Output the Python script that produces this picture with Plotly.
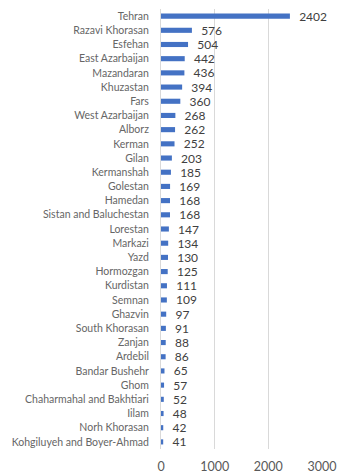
import plotly.graph_objects as go

provinces = [
    "Tehran", "Razavi Khorasan", "Esfehan", "East Azarbaijan", "Mazandaran",
    "Khuzastan", "Fars", "West Azarbaijan", "Alborz", "Kerman", "Gilan",
    "Kermanshah", "Golestan", "Hamedan", "Sistan and Baluchestan", "Lorestan",
    "Markazi", "Yazd", "Hormozgan", "Kurdistan", "Semnan", "Ghazvin",
    "South Khorasan", "Zanjan", "Ardebil", "Bandar Bushehr", "Ghom",
    "Chaharmahal and Bakhtiari", "Iilam", "Norh Khorasan",
    "Kohgiluyeh and Boyer-Ahmad",
]
cases = [
    2402, 576, 504, 442, 436, 394, 360, 268, 262, 252, 203, 185, 169, 168,
    168, 147, 134, 130, 125, 111, 109, 97, 91, 88, 86, 65, 57, 52, 48, 42, 41,
]
x_ticks = [0, 1000, 2000, 3000]

FONT = "Lato, Calibri, Arial, sans-serif"

fig = go.Figure(
    go.Bar(
        x=cases,
        y=provinces,
        orientation="h",
        marker=dict(color="#4472C4", line=dict(width=0)),
        width=0.36,
        text=[f"   {v}" for v in cases],
        textposition="outside",
        constraintext="none",
        textfont=dict(family=FONT, size=12, color="#404040"),
        cliponaxis=False,
    )
)

fig.update_layout(
    width=337,
    height=474,
    margin=dict(l=161, r=15, t=9, b=25),
    paper_bgcolor="white",
    plot_bgcolor="white",
    showlegend=False,
    font=dict(family=FONT),
    uniformtext=dict(mode=False),
)

fig.update_xaxes(
    range=[0, 3000],
    tickvals=x_ticks,
    ticktext=[str(t) for t in x_ticks],
    showgrid=True,
    gridcolor="#D9D9D9",
    gridwidth=1,
    zeroline=False,
    showline=False,
    ticks="",
    ticklabelstandoff=8,
    automargin=False,
    tickfont=dict(family=FONT, size=12.5, color="#595959"),
)

fig.update_yaxes(
    autorange="reversed",
    showgrid=False,
    zeroline=False,
    showline=True,
    linecolor="#D9D9D9",
    linewidth=1,
    ticks="",
    ticklabelstandoff=9,
    automargin=False,
    tickfont=dict(family=FONT, size=10.5, color="#666666"),
)

fig.write_html("out.html")
